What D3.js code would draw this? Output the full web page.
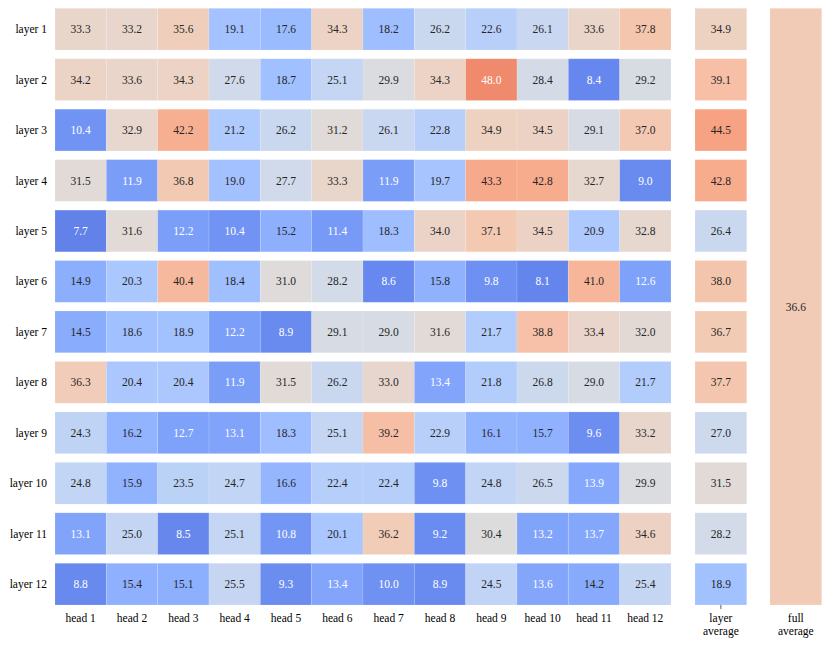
<!DOCTYPE html>
<html>
<head>
<meta charset="utf-8">
<script src="https://cdn.jsdelivr.net/npm/d3@7"></script>
<style>
  body { margin: 0; background: #fff; }
</style>
</head>
<body>
<svg></svg>
<script>
// Dimension constants
const WIDTH = 830;
const HEIGHT = 645;
const FONT = 'Liberation Serif, DejaVu Serif, serif';

// data
const layers = ['layer 1', 'layer 2', 'layer 3', 'layer 4', 'layer 5', 'layer 6',
    'layer 7', 'layer 8', 'layer 9', 'layer 10', 'layer 11', 'layer 12'];
const heads = ['head 1', 'head 2', 'head 3', 'head 4', 'head 5', 'head 6',
    'head 7', 'head 8', 'head 9', 'head 10', 'head 11', 'head 12'];

const values = [
    [33.3, 33.2, 35.6, 19.1, 17.6, 34.3, 18.2, 26.2, 22.6, 26.1, 33.6, 37.8],
    [34.2, 33.6, 34.3, 27.6, 18.7, 25.1, 29.9, 34.3, 48.0, 28.4, 8.4, 29.2],
    [10.4, 32.9, 42.2, 21.2, 26.2, 31.2, 26.1, 22.8, 34.9, 34.5, 29.1, 37.0],
    [31.5, 11.9, 36.8, 19.0, 27.7, 33.3, 11.9, 19.7, 43.3, 42.8, 32.7, 9.0],
    [7.7, 31.6, 12.2, 10.4, 15.2, 11.4, 18.3, 34.0, 37.1, 34.5, 20.9, 32.8],
    [14.9, 20.3, 40.4, 18.4, 31.0, 28.2, 8.6, 15.8, 9.8, 8.1, 41.0, 12.6],
    [14.5, 18.6, 18.9, 12.2, 8.9, 29.1, 29.0, 31.6, 21.7, 38.8, 33.4, 32.0],
    [36.3, 20.4, 20.4, 11.9, 31.5, 26.2, 33.0, 13.4, 21.8, 26.8, 29.0, 21.7],
    [24.3, 16.2, 12.7, 13.1, 18.3, 25.1, 39.2, 22.9, 16.1, 15.7, 9.6, 33.2],
    [24.8, 15.9, 23.5, 24.7, 16.6, 22.4, 22.4, 9.8, 24.8, 26.5, 13.9, 29.9],
    [13.1, 25.0, 8.5, 25.1, 10.8, 20.1, 36.2, 9.2, 30.4, 13.2, 13.7, 34.6],
    [8.8, 15.4, 15.1, 25.5, 9.3, 13.4, 10.0, 8.9, 24.5, 13.6, 14.2, 25.4]
];
const layerAverage = [34.9, 39.1, 44.5, 42.8, 26.4, 38.0, 36.7, 37.7, 27.0, 31.5, 28.2, 18.9];
const fullAverage = 36.6;
const avgLabels = ['layer\naverage', 'full\naverage'];

// coolwarm (Moreland) anchors
const coolwarm = [
    '#3b4cc0', '#445acc', '#4d68d7', '#5775e1', '#6282ea', '#6c8ef1', '#779af7', '#82a5fb',
    '#8db0fe', '#98b9ff', '#a3c2ff', '#aec9fd', '#b8d0f9', '#c2d5f4', '#ccd9ee', '#d5dbe6',
    '#dddddd', '#e5d8d1', '#ecd3c5', '#f1cdb8', '#f5c4ac', '#f7bba0', '#f7b194', '#f7a687',
    '#f49a7b', '#f18d6f', '#ec7f63', '#e57058', '#de604d', '#d55042', '#cb3e38', '#c0282f',
    '#b40426'
];
const interp = d3.interpolateRgbBasis(coolwarm);
const norm = d3.scaleLinear().domain([0, 61]).range([0, 1]).clamp(true);
const colorScale = v => interp(norm(v));

// text color like seaborn: white on dark cells
function textColor(v) {
    const c = d3.rgb(colorScale(v));
    const lin = x => { x /= 255; return x <= 0.03928 ? x / 12.92 : Math.pow((x + 0.055) / 1.055, 2.4); };
    const lum = 0.2126 * lin(c.r) + 0.7152 * lin(c.g) + 0.0722 * lin(c.b);
    return lum > 0.408 ? '#262626' : '#ffffff';
}

// SVG
const svg = d3.select('svg')
    .attr('width', WIDTH)
    .attr('height', HEIGHT)
    .attr('font-family', FONT);

const x = d3.scaleBand()
    .domain(heads)
    .range([55, 671]);

const y = d3.scaleBand()
    .domain(layers)
    .range([8.3, 605])
    .paddingInner(0.173)
    .paddingOuter(0);

const xAvg = d3.scaleBand()
    .domain(avgLabels)
    .range([695, 821.7])
    .paddingInner(0.31);

const cellStroke = 'rgba(255,255,255,0.18)';

// main cells
const cells = [];
values.forEach((row, i) => row.forEach((v, j) => cells.push({ layer: layers[i], head: heads[j], v })));

const main = svg.append('g');
main.selectAll('rect')
    .data(cells).enter().append('rect')
    .attr('x', d => x(d.head))
    .attr('y', d => y(d.layer))
    .attr('width', x.bandwidth())
    .attr('height', y.bandwidth())
    .attr('fill', d => colorScale(d.v))
    .attr('stroke', cellStroke)
    .attr('stroke-width', 0.8);

main.selectAll('text')
    .data(cells).enter().append('text')
    .attr('x', d => x(d.head) + x.bandwidth() / 2)
    .attr('y', d => y(d.layer) + y.bandwidth() / 2)
    .attr('text-anchor', 'middle')
    .attr('dominant-baseline', 'central')
    .attr('font-size', 11.5)
    .attr('fill', d => textColor(d.v))
    .text(d => d.v.toFixed(1));

// layer average column
const avgG = svg.append('g');
avgG.selectAll('rect')
    .data(layerAverage).enter().append('rect')
    .attr('x', xAvg(avgLabels[0]))
    .attr('y', (d, i) => y(layers[i]))
    .attr('width', xAvg.bandwidth())
    .attr('height', y.bandwidth())
    .attr('fill', d => colorScale(d))
    .attr('stroke', cellStroke)
    .attr('stroke-width', 0.8);

avgG.selectAll('text')
    .data(layerAverage).enter().append('text')
    .attr('x', xAvg(avgLabels[0]) + xAvg.bandwidth() / 2)
    .attr('y', (d, i) => y(layers[i]) + y.bandwidth() / 2)
    .attr('text-anchor', 'middle')
    .attr('dominant-baseline', 'central')
    .attr('font-size', 11.5)
    .attr('fill', d => textColor(d))
    .text(d => d.toFixed(1));

// full average column
const fullG = svg.append('g');
fullG.append('rect')
    .attr('x', xAvg(avgLabels[1]))
    .attr('y', y.range()[0])
    .attr('width', xAvg.bandwidth())
    .attr('height', y.range()[1] - y.range()[0])
    .attr('fill', colorScale(fullAverage))
    .attr('stroke', cellStroke)
    .attr('stroke-width', 0.8);

fullG.append('text')
    .attr('x', xAvg(avgLabels[1]) + xAvg.bandwidth() / 2)
    .attr('y', (y.range()[0] + y.range()[1]) / 2)
    .attr('text-anchor', 'middle')
    .attr('dominant-baseline', 'central')
    .attr('font-size', 11.5)
    .attr('fill', textColor(fullAverage))
    .text(fullAverage.toFixed(1));

// row labels
svg.append('g').selectAll('text')
    .data(layers).enter().append('text')
    .attr('x', 47)
    .attr('y', d => y(d) + y.bandwidth() / 2)
    .attr('text-anchor', 'end')
    .attr('dominant-baseline', 'central')
    .attr('font-size', 11.5)
    .attr('fill', '#000')
    .text(d => d);

// column labels
svg.append('g').selectAll('text')
    .data(heads).enter().append('text')
    .attr('x', d => x(d) + x.bandwidth() / 2)
    .attr('y', 622)
    .attr('text-anchor', 'middle')
    .attr('font-size', 11.5)
    .attr('fill', '#000')
    .text(d => d);

svg.append('g').selectAll('text')
    .data(avgLabels).enter().append('text')
    .attr('y', 622)
    .attr('text-anchor', 'middle')
    .attr('font-size', 11.5)
    .attr('fill', '#000')
    .selectAll('tspan')
    .data(d => d.split('\n').map(s => ({ s, cx: xAvg(d) + xAvg.bandwidth() / 2 })))
    .enter().append('tspan')
    .attr('x', d => d.cx)
    .attr('dy', (d, i) => i === 0 ? 0 : 12.5)
    .text(d => d.s);

// small tick under layer average
svg.append('line')
    .attr('x1', xAvg(avgLabels[0]) + xAvg.bandwidth() / 2)
    .attr('x2', xAvg(avgLabels[0]) + xAvg.bandwidth() / 2)
    .attr('y1', 605)
    .attr('y2', 609)
    .attr('stroke', '#333')
    .attr('stroke-width', 0.8);
</script>
</body>
</html>
